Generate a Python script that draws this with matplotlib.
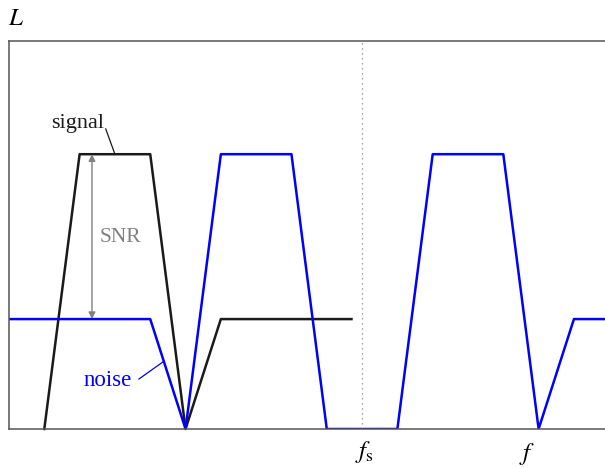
import matplotlib
matplotlib.use("Agg")
import matplotlib.pyplot as plt

plt.rcParams['font.family'] = ['Liberation Serif', 'DejaVu Serif']
plt.rcParams['mathtext.fontset'] = 'stix'

# Trapezoid spectra (frequency in ramp-width units, level relative to noise floor)
signal_f = [1, 2, 4, 5, 6, 9.7]
signal_L = [0, 2.5, 2.5, 0, 1, 1]
noise_f = [0, 4, 5, 6, 8, 9, 11, 12, 14, 15, 16, 17]
noise_L = [1, 1, 0, 2.5, 2.5, 0, 0, 2.5, 2.5, 0, 1, 1]
fs = 10.0
snr_f = 2.35

fig = plt.figure(figsize=(6.05, 4.68), dpi=100)
ax = fig.add_axes([9 / 605, 39 / 468, 1 - 9 / 605, 388 / 468])

ax.plot(signal_f, signal_L, color='#1a1a1a', lw=1.8, clip_on=False)
ax.plot(noise_f, noise_L, color='#0000ff', lw=1.8)
ax.axvline(fs, color='#888888', lw=0.9, ls=(0, (1, 3)))

# SNR arrow
ax.annotate('', xy=(snr_f, 2.5), xytext=(snr_f, 1),
            arrowprops=dict(arrowstyle='<|-|>', color='#808080', lw=1.0,
                            mutation_scale=10, shrinkA=0, shrinkB=0))
ax.text(3.17, 1.745, 'SNR', color='#808080', fontsize=15.5,
        ha='center', va='center')

# labels with leader lines
ax.text(1.93, 2.78, 'signal', color='#1a1a1a', fontsize=16, ha='center', va='center')
ax.plot([2.74, 3.0], [2.73, 2.5], color='#1a1a1a', lw=0.9)
ax.text(2.78, 0.44, 'noise', color='#0000ff', fontsize=16.5, ha='center', va='center')
ax.plot([3.68, 4.36], [0.455, 0.61], color='#0000ff', lw=0.9)

ax.set_xlim(0, 16.88)
ax.set_ylim(0, 3.53)
ax.set_xticks([])
ax.set_yticks([])
ax.spines['right'].set_visible(False)
for s in ['left', 'top', 'bottom']:
    ax.spines[s].set_color('#555555')
    ax.spines[s].set_linewidth(1.1)

fig.text(16 / 605, 1 - 19 / 468, r'$L$', fontsize=18, ha='center', va='center')
fig.text(364 / 605, 1 - 452 / 468, r'$f_{\mathrm{s}}$', fontsize=18, ha='center', va='center')
fig.text(527 / 605, 1 - 454 / 468, r'$f$', fontsize=18, ha='center', va='center')

fig.savefig('out.png', dpi=100)
